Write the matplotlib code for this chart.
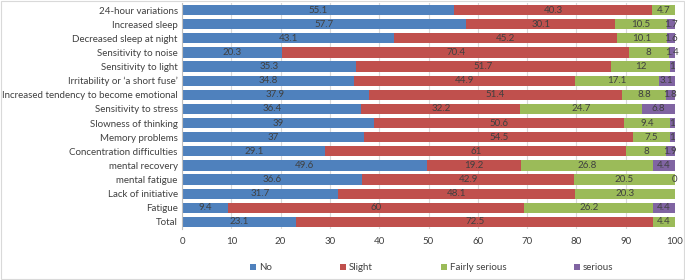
import matplotlib
matplotlib.use("Agg")
import matplotlib.pyplot as plt
import numpy as np

categories = ["24-hour variations", "Increased sleep", "Decreased sleep at night",
              "Sensitivity to noise", "Sensitivity to light", "Irritability or \u2018a short fuse\u2019",
              "Increased tendency to become emotional", "Sensitivity to stress",
              "Slowness of thinking", "Memory problems", "Concentration difficulties",
              "mental recovery", "mental fatigue", "Lack of initiative", "Fatigue", "Total"]
no_vals = [55.1, 57.7, 43.1, 20.3, 35.3, 34.8, 37.9, 36.4, 39, 37, 29.1, 49.6, 36.6, 31.7, 9.4, 23.1]
slight_vals = [40.3, 30.1, 45.2, 70.4, 51.7, 44.9, 51.4, 32.2, 50.6, 54.5, 61, 19.2, 42.9, 48.1, 60, 72.5]
fairly_vals = [4.7, 10.5, 10.1, 8, 12, 17.1, 8.8, 24.7, 9.4, 7.5, 8, 26.8, 20.5, 20.3, 26.2, 4.4]
serious_vals = [None, 1.7, 1.6, 1.4, 1, 3.1, 1.8, 6.8, 1, 1, 1.9, 4.4, 0, None, 4.4, None]
series_names = ["No", "Slight", "Fairly serious", "serious"]
colors = ["#4F81BD", "#C0504D", "#9BBB59", "#8064A2"]

plt.rcParams['font.family'] = ['Lato', 'DejaVu Sans']
txt = "#404040"

fig = plt.figure(figsize=(6.85, 2.80), dpi=100)
ax = fig.add_axes([182/685, 1 - 229/280, (675-182)/685, 226/280])

y = np.arange(len(categories))
left = np.zeros(len(categories))
series = [no_vals, slight_vals, fairly_vals, serious_vals]
for name, vals, c in zip(series_names, series, colors):
    v = np.array([0 if x is None else x for x in vals], dtype=float)
    ax.barh(y, v, left=left, height=0.72, color=c, label=name, zorder=2)
    for i, x in enumerate(vals):
        if x is None:
            continue
        ax.text(left[i] + v[i] / 2, y[i], f"{x:g}", ha="center", va="center",
                fontsize=7, color=txt, zorder=3)
    left += v

ax.set_xlim(0, 100)
ax.set_ylim(len(categories) - 0.5, -0.5)
ax.set_yticks(y)
ax.set_yticklabels(categories, fontsize=7, color=txt)
ax.set_xticks(np.arange(0, 101, 10))
ax.tick_params(axis='x', labelsize=7, colors=txt, length=0, pad=6)
ax.tick_params(axis='y', length=0, pad=3)
ax.grid(axis='x', color="#D9D9D9", linewidth=0.8, zorder=0)
for s in ["top", "right", "bottom"]:
    ax.spines[s].set_visible(False)
ax.spines["left"].set_color("#BFBFBF")

leg = fig.legend(loc="center", bbox_to_anchor=(432/685, 1 - 268/280), ncol=4,
                 frameon=False, fontsize=7, handlelength=0.6, handleheight=0.6,
                 columnspacing=7, handletextpad=0.3)
for t in leg.get_texts():
    t.set_color(txt)

fig.patches.append(plt.Rectangle((0.002, 0.004), 0.996, 0.992, transform=fig.transFigure,
                                 fill=False, edgecolor="#D9D9D9", linewidth=0.8))
fig.savefig("out.png", dpi=100, facecolor="white")
